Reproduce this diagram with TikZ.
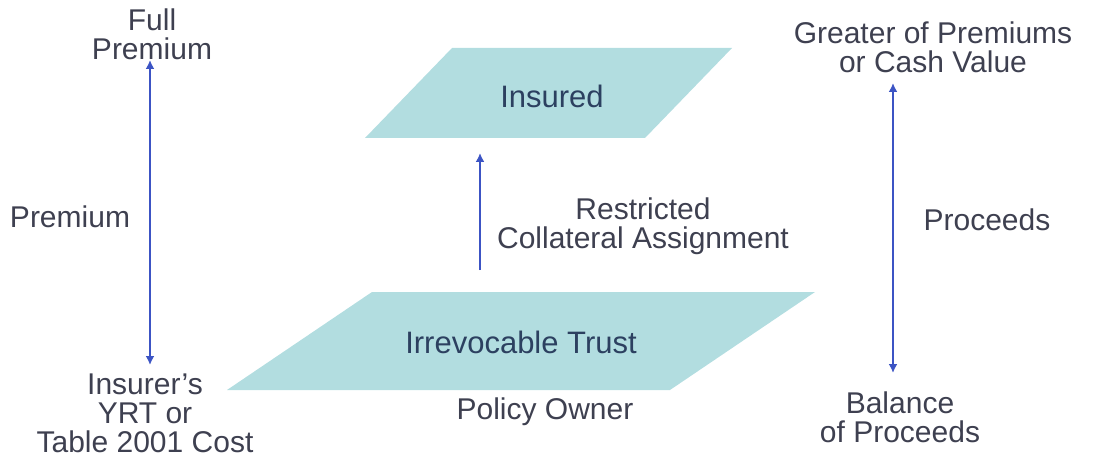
\documentclass[tikz,border=0pt]{standalone}
\usepackage{fontspec}
\setmainfont{Liberation Sans}
\usetikzlibrary{arrows.meta}
\definecolor{boxfill}{RGB}{178,221,224}
\definecolor{labeltext}{RGB}{62,64,80}
\definecolor{boxtext}{RGB}{44,64,96}
\definecolor{flowblue}{RGB}{60,84,196}
\begin{document}
\begin{tikzpicture}
    [x=0.5pt,y=-0.5pt,
     Label/.style={text=labeltext,align=center,inner sep=0pt,font=\fontsize{15}{14.5}\selectfont},
     BoxLabel/.style={text=boxtext,inner sep=0pt,font=\fontsize{15.5}{16}\selectfont},
     Flow/.style={draw=flowblue,line width=1.3pt,{Latex[length=4.5pt,width=4.5pt]}-{Latex[length=4.5pt,width=4.5pt]}},
     FlowUp/.style={draw=flowblue,line width=1.3pt,-{Latex[length=4.5pt,width=4.5pt]}}]
    \useasboundingbox (0,0) rectangle (1093,460);

    \fill[boxfill] (452,48) -- (732,48) -- (645,138) -- (365,138) -- cycle;
    \fill[boxfill] (372,292) -- (815,292) -- (670,390) -- (227,390) -- cycle;

    \node[BoxLabel] (insured) at (552,96) {Insured};
    \node[BoxLabel] (trust) at (521,342) {Irrevocable Trust};
    \node[Label] (owner) at (545,412) {Policy Owner};

    \node[Label] (full) at (152,34) {Full\\Premium};
    \node[Label] (premium) at (70,217) {Premium};
    \node[Label] (insurer) at (145,413) {Insurer's\\YRT or\\Table 2001 Cost};

    \node[Label] (restricted) at (643,226) {Restricted\\Collateral Assignment};

    \node[Label] (greater) at (933,47) {Greater of Premiums\\or Cash Value};
    \node[Label] (proceeds) at (987,220) {Proceeds};
    \node[Label] (balance) at (900,417) {Balance\\of Proceeds};

    \coordinate (fulltip) at (150,60);
    \coordinate (insurertip) at (150,365);
    \coordinate (trusttip) at (480,270);
    \coordinate (insuredtip) at (480,153);
    \coordinate (greatertip) at (893,83);
    \coordinate (balancetip) at (893,373);

    \draw[Flow] (insurertip) -- (fulltip);
    \draw[FlowUp] (trusttip) -- (insuredtip);
    \draw[Flow] (balancetip) -- (greatertip);
\end{tikzpicture}
\end{document}
